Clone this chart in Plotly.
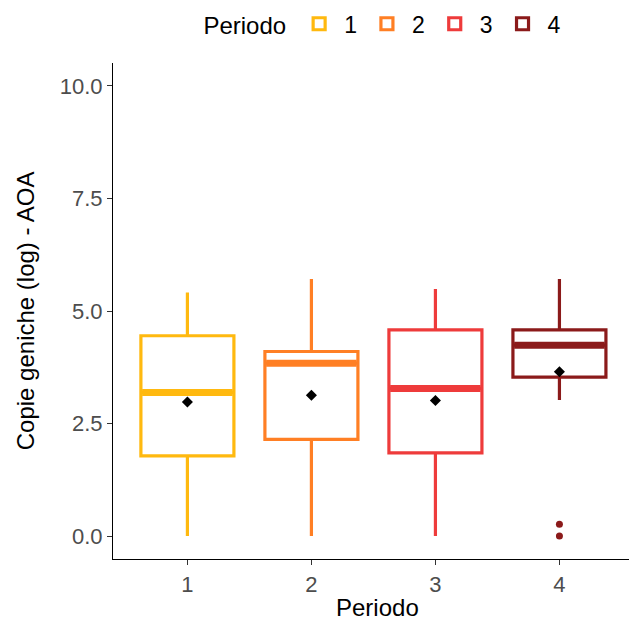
import plotly.graph_objects as go

periods = ["1", "2", "3", "4"]
xpos = [1, 2, 3, 4]
colors = ["#FFB90F", "#FF7F24", "#EE3B3B", "#8B1A1A"]
lower = [0.0, 0.0, 0.0, 3.02]
q1 = [1.78, 2.15, 1.85, 3.53]
median = [3.19, 3.84, 3.28, 4.24]
q3 = [4.45, 4.10, 4.58, 4.58]
upper = [5.41, 5.71, 5.49, 5.71]
means = [2.98, 3.13, 3.01, 3.65]
outlier_x = [4, 4]
outlier_y = [0.26, 0.0]

BOXW = 0.75
font = "Liberation Sans, Arial, sans-serif"

fig = go.Figure()
for i, p in enumerate(periods):
    fig.add_trace(go.Box(
        x=[xpos[i]], q1=[q1[i]], median=[median[i]], q3=[q3[i]],
        lowerfence=[lower[i]], upperfence=[upper[i]],
        name=p, width=BOXW, whiskerwidth=0,
        line=dict(color=colors[i], width=3.2), fillcolor="white",
        hoverinfo="skip", showlegend=True, legendgroup=p,
    ))
    # thick median (ggplot fatten)
    fig.add_trace(go.Scatter(
        x=[xpos[i] - BOXW / 2 + 0.01, xpos[i] + BOXW / 2 - 0.01],
        y=[median[i], median[i]], mode="lines",
        line=dict(color=colors[i], width=7), showlegend=False,
        hoverinfo="skip",
    ))

fig.add_trace(go.Scatter(
    x=outlier_x, y=outlier_y, mode="markers",
    marker=dict(color=colors[3], size=7), showlegend=False, hoverinfo="skip",
))
fig.add_trace(go.Scatter(
    x=xpos, y=means, mode="markers",
    marker=dict(color="black", size=8.5, symbol="diamond"),
    showlegend=False, hoverinfo="skip",
))

fig.update_layout(
    width=629, height=623,
    margin=dict(l=113, r=0, t=63, b=64),
    paper_bgcolor="white", plot_bgcolor="white",
    font=dict(family=font, size=22, color="black"),
    showlegend=True,
    legend=dict(
        orientation="h", x=0.525, xanchor="center", y=1.079, yanchor="middle",
        title=dict(text="Periodo", font=dict(size=24, color="black")),
        font=dict(size=23, color="black"), itemclick=False, itemwidth=40,
    ),
    xaxis=dict(
        range=[0.4, 4.561], tickmode="array", tickvals=xpos, ticktext=periods,
        showline=True, linecolor="black", linewidth=1.2,
        ticks="outside", ticklen=5, tickcolor="#333333", tickwidth=1.2,
        tickfont=dict(size=22, color="#4D4D4D"), showgrid=False, zeroline=False,
        automargin=False,
    ),
    yaxis=dict(
        range=[-0.51, 10.51], tickmode="array",
        tickvals=[0, 2.5, 5, 7.5, 10], ticktext=["0.0", "2.5", "5.0", "7.5", "10.0"],
        showline=True, linecolor="black", linewidth=1.2,
        ticks="outside", ticklen=5, tickcolor="#333333", tickwidth=1.2,
        tickfont=dict(size=22, color="#4D4D4D"), showgrid=False, zeroline=False,
        automargin=False,
    ),
    annotations=[
        dict(text="Periodo", xref="paper", yref="paper", x=0.513, y=-0.097,
             xanchor="center", yanchor="middle", showarrow=False,
             font=dict(size=24, color="black")),
        dict(text="Copie geniche (log) - AOA", xref="paper", yref="paper",
             x=-0.17, y=0.5, xanchor="center", yanchor="middle", textangle=-90,
             showarrow=False, font=dict(size=24, color="black")),
    ],
)

fig.write_html(
    "out.html",
    config={"displayModeBar": False},
    post_script="document.body.style.margin='0px';document.body.style.overflow='hidden';",
)
